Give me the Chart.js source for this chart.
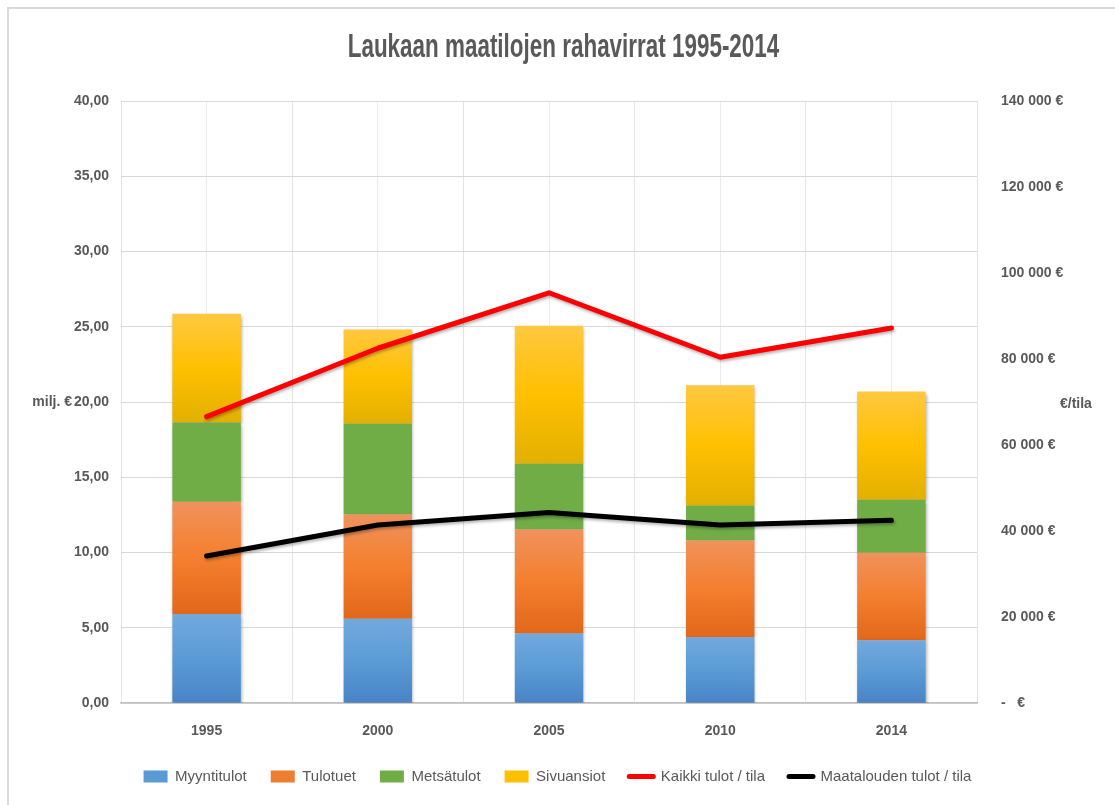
<!DOCTYPE html>
<html>
<head>
    <title>Laukaan maatilojen rahavirrat</title>
    <script src="https://cdn.jsdelivr.net/npm/chart.js"></script>
    <style>
        body { margin: 0; background: #fff; }
        #kaavio { display: block; }
    </style>
</head>
<body>
    <canvas id="kaavio" width="1115" height="805"></canvas>
    <script>
        // Arvot luettu kuvasta (milj. € ja €/tila)
        const otsikko = 'Laukaan maatilojen rahavirrat 1995-2014';
        const vuodet = ['1995', '2000', '2005', '2010', '2014'];
        const myyntitulot = [5.92, 5.59, 4.61, 4.39, 4.17];
        const tulotuet = [7.45, 6.94, 6.92, 6.41, 5.81];
        const metsatulot = [5.26, 6.03, 4.37, 2.33, 3.53];
        const sivuansiot = [7.23, 6.26, 9.16, 7.98, 7.18];
        const kaikkiTulot = [66600, 82500, 95400, 80400, 87200];
        const maatalousTulot = [34200, 41400, 44300, 41400, 42500];

        const fontti = "'Liberation Sans', Arial, sans-serif";
        const harmaa = '#595959';

        const pylvaat = [myyntitulot, tulotuet, metsatulot, sivuansiot];

        // Excel-tyylinen liukuväri pylväsosiin
        function liukuvari(stops, perus) {
            return function (ctx) {
                const chart = ctx.chart;
                if (!chart.chartArea || ctx.type !== 'data') return perus;
                const y = chart.scales.y;
                let ala = 0;
                for (let i = 0; i < ctx.datasetIndex; i++) ala += pylvaat[i][ctx.dataIndex];
                const yla = ala + pylvaat[ctx.datasetIndex][ctx.dataIndex];
                const g = chart.ctx.createLinearGradient(0, y.getPixelForValue(yla), 0, y.getPixelForValue(ala));
                g.addColorStop(0, stops[0]);
                g.addColorStop(0.5, stops[1]);
                g.addColorStop(1, stops[2]);
                return g;
            };
        }

        const varjo = {
            id: 'varjo',
            beforeDatasetsDraw(chart) {
                const c = chart.ctx;
                c.save();
                c.shadowColor = 'rgba(0,0,0,0.3)';
                c.shadowBlur = 3;
                c.shadowOffsetX = 1;
                c.shadowOffsetY = 2;
            },
            afterDatasetsDraw(chart) {
                chart.ctx.restore();
            }
        };

        const kehys = {
            id: 'kehys',
            beforeDraw(chart) {
                const c = chart.ctx;
                c.save();
                c.strokeStyle = '#d9d9d9';
                c.lineWidth = 2;
                c.beginPath();
                c.moveTo(8, chart.height);
                c.lineTo(8, 8);
                c.lineTo(chart.width, 8);
                c.stroke();
                c.restore();
            },
            afterDraw(chart) {
                const c = chart.ctx;
                const y = chart.scales.y, y1 = chart.scales.y1;
                c.save();
                // otsikko kapeana kuten Excelissä
                c.font = 'bold 33px ' + fontti;
                c.fillStyle = harmaa;
                c.textAlign = 'center';
                c.textBaseline = 'alphabetic';
                c.translate(chart.width / 2 + 6, 57);
                c.scale(0.68, 1);
                c.fillText(otsikko, 0, 0);
                c.restore();

                // vaakasuorat akselien otsikot
                c.save();
                c.font = 'bold 14px ' + fontti;
                c.fillStyle = harmaa;
                c.textBaseline = 'middle';
                c.textAlign = 'right';
                c.fillText('milj. €', y.right - 49, (y.top + y.bottom) / 2);
                c.textAlign = 'left';
                c.fillText('€/tila', y1.left + 83, (y1.top + y1.bottom) / 2 + 2);
                c.restore();
            }
        };

        new Chart(document.getElementById('kaavio'), {
            type: 'bar',
            data: {
                labels: vuodet,
                datasets: [
                    { label: 'Myyntitulot', data: myyntitulot, order: 2,
                      backgroundColor: liukuvari(['#72a9dd', '#5b9bd5', '#4784c6'], '#5b9bd5') },
                    { label: 'Tulotuet', data: tulotuet, order: 2,
                      backgroundColor: liukuvari(['#f0925c', '#f47f2e', '#e2671a'], '#ed7d31') },
                    { label: 'Metsätulot', data: metsatulot, order: 2,
                      backgroundColor: '#70ad47' },
                    { label: 'Sivuansiot', data: sivuansiot, order: 2,
                      backgroundColor: liukuvari(['#ffc840', '#ffc000', '#e2b000'], '#ffc000') },
                    { type: 'line', label: 'Kaikki tulot / tila', data: kaikkiTulot, yAxisID: 'y1', order: 1,
                      borderColor: '#ff0000', borderWidth: 5, pointRadius: 0, tension: 0,
                      borderCapStyle: 'round', borderJoinStyle: 'round' },
                    { type: 'line', label: 'Maatalouden tulot / tila', data: maatalousTulot, yAxisID: 'y1', order: 1,
                      borderColor: '#000000', borderWidth: 5, pointRadius: 0, tension: 0,
                      borderCapStyle: 'round', borderJoinStyle: 'round' }
                ]
            },
            options: {
                responsive: false,
                animation: false,
                barPercentage: 0.8,
                categoryPercentage: 0.5,
                layout: { padding: { left: 0, right: 0, top: 101, bottom: 11 } },
                plugins: {
                    title: { display: false },
                    tooltip: { enabled: false },
                    legend: {
                        position: 'bottom',
                        labels: {
                            color: harmaa,
                            font: { family: fontti, size: 15 },
                            usePointStyle: true,
                            pointStyleWidth: 24,
                            boxHeight: 12,
                            padding: 24,
                            generateLabels(chart) {
                                const tyyli = [
                                    ['#5b9bd5', 'rect'], ['#ed7d31', 'rect'], ['#70ad47', 'rect'],
                                    ['#ffc000', 'rect'], ['#ff0000', 'line'], ['#000000', 'line']
                                ];
                                return chart.data.datasets.map((d, i) => ({
                                    text: d.label,
                                    fillStyle: tyyli[i][0],
                                    strokeStyle: tyyli[i][0],
                                    lineWidth: tyyli[i][1] === 'line' ? 5 : 0,
                                    lineCap: 'round',
                                    pointStyle: tyyli[i][1],
                                    fontColor: harmaa,
                                    datasetIndex: i,
                                    hidden: false
                                }));
                            }
                        }
                    }
                },
                scales: {
                    x: {
                        stacked: true,
                        offset: true,
                        grid: { offset: true, color: '#e4e4e4', drawTicks: false },
                        border: { color: '#bfbfbf', width: 1.5 },
                        ticks: { color: harmaa, font: { family: fontti, size: 14, weight: 'bold' }, padding: 20 },
                        afterFit(s) { s.height = 42; }
                    },
                    x2: {
                        type: 'category',
                        position: 'top',
                        offset: true,
                        grid: { offset: false, color: '#ececec', drawTicks: false },
                        border: { display: false },
                        ticks: { display: false }
                    },
                    y: {
                        stacked: true,
                        min: 0,
                        max: 40,
                        grid: { color: '#d9d9d9', drawTicks: false },
                        border: { display: false },
                        ticks: {
                            stepSize: 5,
                            padding: 12,
                            color: harmaa,
                            font: { family: fontti, size: 14, weight: 'bold' },
                            callback: v => v.toFixed(2).replace('.', ',')
                        },
                        afterFit(s) { s.width = 121; }
                    },
                    y1: {
                        position: 'right',
                        min: 0,
                        max: 140000,
                        grid: { display: false },
                        border: { display: false },
                        ticks: {
                            stepSize: 20000,
                            padding: 16,
                            color: harmaa,
                            font: { family: fontti, size: 14, weight: 'bold' },
                            callback: v => v === 0 ? '-   €'
                                : String(v).replace(/\B(?=(\d{3})+(?!\d))/g, ' ') + ' €'
                        },
                        afterFit(s) { s.width = 138; }
                    }
                }
            },
            plugins: [varjo, kehys]
        });
    </script>
</body>
</html>
